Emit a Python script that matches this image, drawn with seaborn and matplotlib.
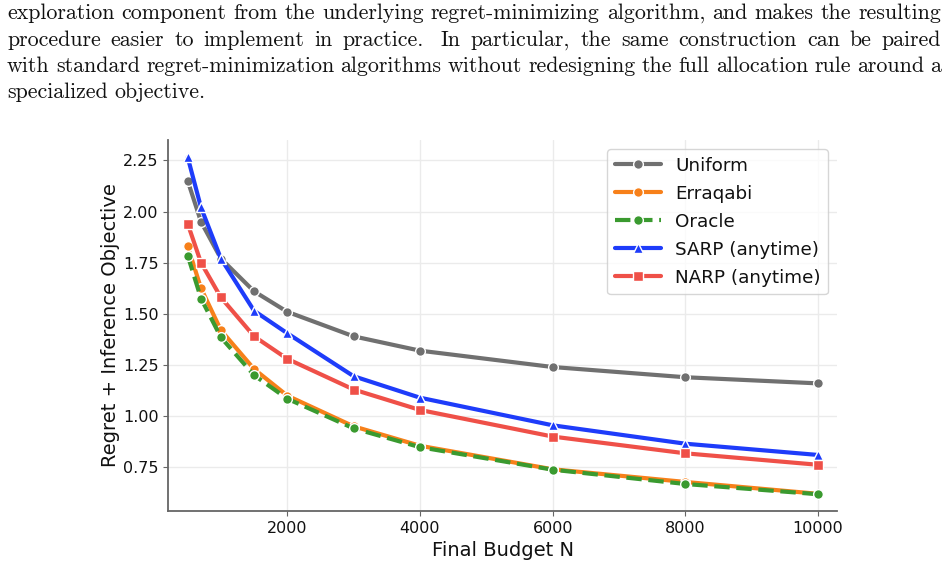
import matplotlib
matplotlib.use("Agg")
import matplotlib.pyplot as plt
import seaborn as sns

# 데이터
budgets = [500, 700, 1000, 1500, 2000, 3000, 4000, 6000, 8000, 10000]
uniform = [2.15, 1.95, 1.77, 1.61, 1.51, 1.39, 1.32, 1.24, 1.19, 1.16]
erraqabi = [1.83, 1.625, 1.42, 1.23, 1.10, 0.95, 0.855, 0.74, 0.678, 0.62]
oracle = [1.785, 1.575, 1.385, 1.20, 1.085, 0.94, 0.848, 0.738, 0.668, 0.618]
sarp = [2.265, 2.02, 1.77, 1.515, 1.405, 1.195, 1.09, 0.955, 0.865, 0.81]
narp = [1.94, 1.75, 1.58, 1.39, 1.28, 1.13, 1.03, 0.90, 0.818, 0.762]
methods = ["Uniform", "Erraqabi", "Oracle", "SARP (anytime)", "NARP (anytime)"]

paragraph = [
    "exploration component from the underlying regret-minimizing algorithm, and makes the resulting",
    "procedure easier to implement in practice.  In particular, the same construction can be paired",
    "with standard regret-minimization algorithms without redesigning the full allocation rule around a",
    "specialized objective.",
]

colors = ["#707070", "#f7801a", "#3a9a2f", "#1e3cfa", "#ef5048"]
marker_list = ["o", "o", "o", "^", "s"]
styles = ["-", "-", "--", "-", "-"]

sns.set_style("ticks")
plt.rcParams["font.family"] = ["DejaVu Sans"]
plt.rcParams["text.color"] = "#111111"
plt.rcParams["axes.labelcolor"] = "#111111"

W, H = 948, 564
fig = plt.figure(figsize=(W / 100, H / 100), dpi=100)
ax = fig.add_axes([168.3 / W, 1 - 511 / H, (837.3 - 168.3) / W, (511 - 140) / H])

for name, vals, c, m, ls in zip(methods, [uniform, erraqabi, oracle, sarp, narp],
                                colors, marker_list, styles):
    sns.lineplot(x=budgets, y=vals, label=name, color=c, marker=m, linestyle=ls,
                 linewidth=3, markersize=7, markeredgecolor="white",
                 markeredgewidth=1, ax=ax)

ax.set_xlim(207, 10290)
ax.set_ylim(0.536, 2.35)
ax.grid(True, color="#ebebeb", linewidth=1)
ax.set_axisbelow(True)
sns.despine(ax=ax)
for s in ["left", "bottom"]:
    ax.spines[s].set_color("#666666")
    ax.spines[s].set_linewidth(1.3)
ax.tick_params(labelsize=11.5, color="#666666", labelcolor="#111111", length=3.5)
ax.set_xlabel("Final Budget N", fontsize=14)
ax.set_ylabel("Regret + Inference Objective", fontsize=14, labelpad=2)

leg = ax.legend(loc="upper right", fontsize=13.2, frameon=True,
                fancybox=True, handlelength=2.5, labelspacing=0.55)
leg.get_frame().set_edgecolor("#cccccc")

# 위쪽 본문 텍스트 (양쪽 정렬)
renderer = fig.canvas.get_renderer()
x_left, x_right = 7, 941
baselines = [19, 45.5, 72, 98.5]
fs = 15.8
em = fs * 100 / 72
for i, line in enumerate(paragraph):
    words = line.split()
    texts = [fig.text(0, 1 - baselines[i] / H, w, family="cmr10", fontsize=fs,
                      va="baseline", ha="left") for w in words]
    widths = [t.get_window_extent(renderer).width for t in texts]
    # 문장 끝 마침표 뒤에는 조금 더 넓은 간격
    extra = [0.3 * em if w.endswith(".") and k < len(words) - 1 else 0
             for k, w in enumerate(words)]
    if i < len(paragraph) - 1:
        gap = (x_right - x_left - sum(widths) - sum(extra)) / (len(words) - 1)
    else:
        gap = 0.33 * em
    x = x_left
    for t, w, e in zip(texts, widths, extra):
        t.set_x(x / W)
        x += w + gap + e

fig.savefig("out.png", dpi=100)
